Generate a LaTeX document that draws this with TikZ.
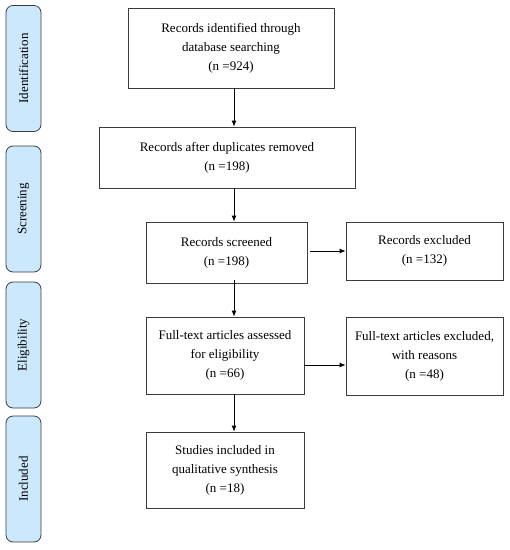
\documentclass[tikz,border=0pt]{standalone}
\usepackage{fontspec}
\setmainfont{Liberation Serif}
\usetikzlibrary{arrows.meta,positioning}

\definecolor{phaseblue}{RGB}{204,232,252}
\definecolor{linegray}{RGB}{60,60,60}

\begin{document}
\begin{tikzpicture}[x=1pt,y=-1pt,>={Latex[length=6pt,width=5pt]},semithick]
\tikzstyle{every node}=[font=\fontsize{13}{19}\selectfont,text=black]
\tikzstyle{stage}=[draw=linegray,fill=white,line width=0.8pt,align=center,inner sep=2pt]
\tikzstyle{phase}=[draw=linegray,fill=phaseblue,line width=0.8pt,rounded corners=7pt,minimum width=35pt,minimum height=126pt]
\tikzstyle{flow}=[->,draw=black,line width=0.8pt]

\useasboundingbox (0,0) rectangle (510,550);

% Fases a la izquierda
\node[phase] (ident) at (23.5,68.5) {};
\node[phase] (screen) at (23.5,209) {};
\node[phase] (elig) at (23.5,345) {};
\node[phase] (incl) at (23.5,479) {};
\node[rotate=90] at (ident) {Identification};
\node[rotate=90] at (screen) {Screening};
\node[rotate=90] at (elig) {Eligibility};
\node[rotate=90] at (incl) {Included};

% Cajas del diagrama
\node[stage,minimum width=206pt,minimum height=80pt] (found) at (231,48)
  {Records identified through\\database searching\\(n =924)};
\node[stage,minimum width=256pt,minimum height=61pt] (nodup) at (227,157.5)
  {Records after duplicates removed\\(n =198)};
\node[stage,minimum width=161pt,minimum height=61pt] (screened) at (226.5,252.5)
  {Records screened\\(n =198)};
\node[stage,minimum width=157pt,minimum height=58pt] (excl) at (424.5,251)
  {Records excluded\\(n =132)};
\node[stage,minimum width=158pt,minimum height=77pt] (fulltext) at (225,355.5)
  {Full-text articles assessed\\for eligibility\\(n =66)};
\node[stage,minimum width=157pt,minimum height=78pt] (fullexcl) at (424.5,356)
  {Full-text articles excluded,\\with reasons\\(n =48)};
\node[stage,minimum width=158pt,minimum height=76pt] (studies) at (225,470)
  {Studies included in\\qualitative synthesis\\(n =18)};

% Flechas
\coordinate (axis) at (234,0);
\draw[flow] (found.south -| axis) -- (nodup.north -| axis);
\draw[flow] (nodup.south -| axis) -- (screened.north -| axis);
\draw[flow] ([yshift=3pt]screened.south -| axis) -- (fulltext.north -| axis);
\draw[flow] (fulltext.south -| axis) -- (studies.north -| axis);
\draw[flow] ([xshift=3pt]screened.east |- excl.west) -- (excl.west);
\draw[flow] (fulltext.east |- 0,365) -- (fullexcl.west |- 0,365);
\end{tikzpicture}
\end{document}
